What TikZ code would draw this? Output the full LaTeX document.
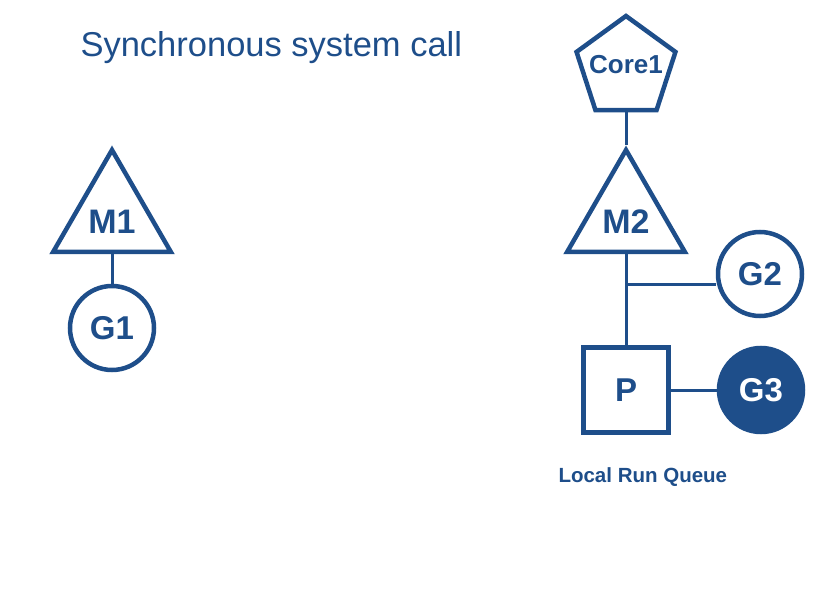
\documentclass[tikz,border=0pt]{standalone}
\usepackage{fontspec}
\setmainfont{Liberation Sans}
\usetikzlibrary{shapes.geometric,positioning}
\definecolor{gblue}{RGB}{30,78,138}

\begin{document}
\begin{tikzpicture}[x=1pt,y=-1pt]

\tikzset{machine/.style={regular polygon, regular polygon sides=3, draw=gblue, line width=4.5pt,
           minimum size=136pt, inner sep=0pt, text=gblue, font=\fontsize{34}{34}\selectfont\bfseries},
         core/.style={regular polygon, regular polygon sides=5, draw=gblue, line width=4.5pt,
           minimum size=104pt, inner sep=0pt, text=gblue, font=\fontsize{26}{26}\selectfont\bfseries},
         goroutine/.style={circle, draw=gblue, line width=4.5pt, minimum size=84pt, inner sep=0pt,
           text=gblue, font=\fontsize{33}{33}\selectfont\bfseries},
         running/.style={goroutine, fill=gblue, text=white},
         proc/.style={rectangle, draw=gblue, line width=4.5pt, minimum size=85pt, inner sep=0pt,
           text=gblue, font=\fontsize{33}{33}\selectfont\bfseries},
         link/.style={draw=gblue, line width=3pt}}

\useasboundingbox (0,0) rectangle (828,604);

\node[anchor=base west, text=gblue, font=\fontsize{34.5}{34.5}\selectfont] (title) at (77,57) {Synchronous system call};

% blocked thread
\node[machine] (M1) at (112,218) {\makebox[0pt]{\raisebox{-16pt}[0pt][0pt]{M1}}};
\node[goroutine] (G1) at (112,328) {G1};
\draw[link] (M1.south) -- (G1.north);

% thread on the core
\node[core] (Core1) at (626,68) {\makebox[0pt]{\raisebox{-6pt}[0pt][0pt]{Core1}}};
\node[machine] (M2) at (626,218) {\makebox[0pt]{\raisebox{-16pt}[0pt][0pt]{M2}}};
\node[proc] (P) at (626,390) {P};
\node[goroutine] (G2) at (760,274) {G2};
\node[running] (G3) at (761,390) {G3};
\coordinate (fork) at (626,285);

\draw[link] (Core1.south) -- (M2.north);
\draw[link] (M2.south) -- (P.north);
\draw[link] (fork) -- (fork -| G2.west);
\draw[link] (P.east) -- (G3.west);

\node[anchor=base west, text=gblue, font=\fontsize{20.5}{20.5}\selectfont\bfseries] (lrq) at (555,482) {Local Run Queue};

\end{tikzpicture}
\end{document}
